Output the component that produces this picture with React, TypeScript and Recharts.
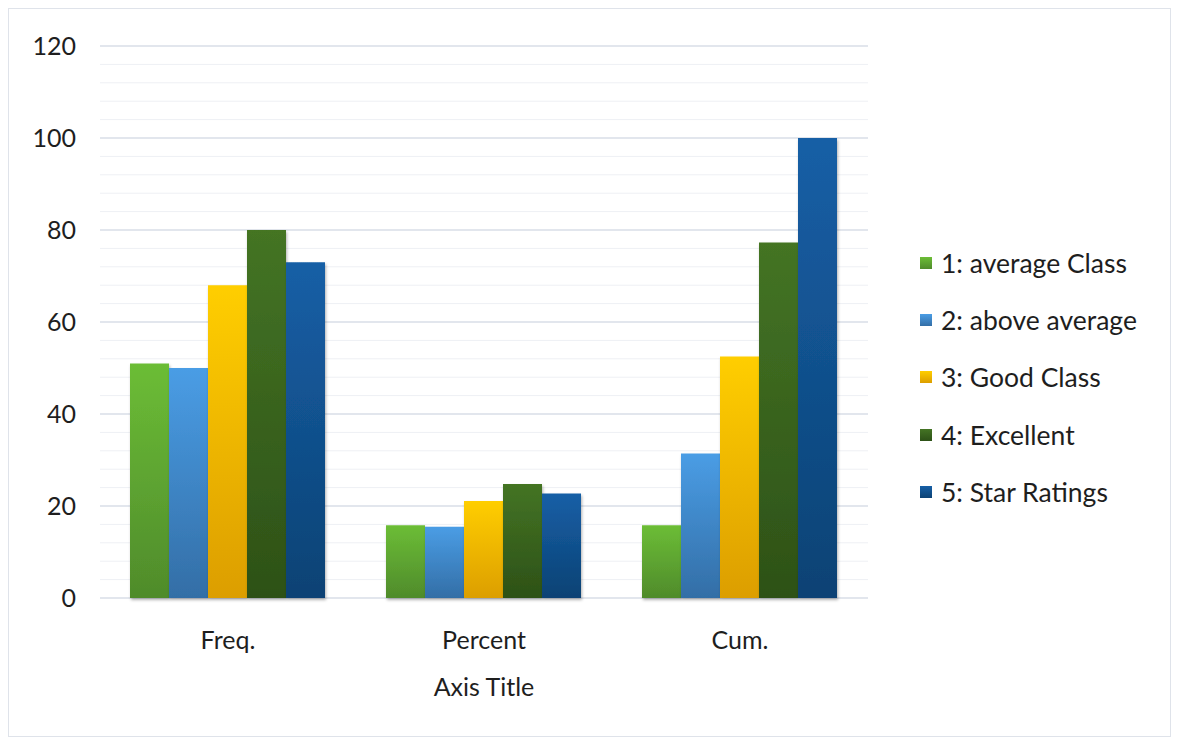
import { BarChart, Bar, XAxis, YAxis, CartesianGrid } from 'recharts';

const categories = ['Freq.', 'Percent', 'Cum.'];
const seriesNames = ['1: average Class', '2: above average', '3: Good Class', '4: Excellent', '5: Star Ratings'];
const averageClass = [51, 15.8, 15.8];
const aboveAverage = [50, 15.5, 31.4];
const goodClass = [68, 21.1, 52.5];
const excellent = [80, 24.8, 77.3];
const starRatings = [73, 22.7, 100];
const yTicks = [0, 20, 40, 60, 80, 100, 120];
const minorTicks = [4, 8, 12, 16, 24, 28, 32, 36, 44, 48, 52, 56, 64, 68, 72, 76, 84, 88, 92, 96, 104, 108, 112, 116];

const seriesValues = [averageClass, aboveAverage, goodClass, excellent, starRatings];
const gradients = [
    ['#6cbd36', '#4f8b2b'],
    ['#4a9de5', '#336ea6'],
    ['#ffce00', '#dc9e00'],
    ['#447424', '#2d5117'],
    ['#165fa6', '#0c4274'],
];

const chartData = categories.map((name, i) => {
    const row: Record<string, string | number> = { name };
    seriesNames.forEach((s, j) => { row[`s${j}`] = seriesValues[j][i]; });
    return row;
});

const FONT = 'Lato, "Open Sans", sans-serif';
const FONT_SIZE = 25;
const TEXT = '#1e1e1e';

const YTick = (props: any) => {
    const { y, payload } = props;
    return (
        <text x={67} y={y} dy="0.36em" textAnchor="end" fontFamily={FONT} fontSize={FONT_SIZE} fill={TEXT}>
            {payload.value}
        </text>
    );
};

const XTick = (props: any) => {
    const { x, y, payload } = props;
    return (
        <text x={x} y={y + 43} textAnchor="middle" fontFamily={FONT} fontSize={FONT_SIZE} fill={TEXT}>
            {payload.value}
        </text>
    );
};

const ChartLegend = () => (
    <div style={{ position: 'absolute', left: 911, top: 225, fontFamily: FONT, fontSize: 26.5, color: TEXT }}>
        {seriesNames.map((s, i) => (
            <div key={s} style={{ display: 'flex', alignItems: 'center', height: 57.3, whiteSpace: 'nowrap' }}>
                <div style={{
                    width: 12, height: 12, marginRight: 9,
                    background: `linear-gradient(${gradients[i][0]}, ${gradients[i][1]})`,
                }} />
                <span>{s}</span>
            </div>
        ))}
    </div>
);

export default function App() {
    return (
        <div style={{ position: 'relative', width: 1163, height: 729, border: '1px solid #dfe3ea', boxSizing: 'border-box', background: '#fff' }}>
            <BarChart
                width={1161}
                height={727}
                data={chartData}
                margin={{ top: 37, right: 302, left: 0, bottom: 0 }}
                barCategoryGap={30}
                barGap={0}
            >
                <defs>
                    {gradients.map((g, i) => (
                        <linearGradient key={i} id={`grad${i}`} x1="0" y1="0" x2="0" y2="1">
                            <stop offset="0%" stopColor={g[0]} />
                            <stop offset="100%" stopColor={g[1]} />
                        </linearGradient>
                    ))}
                    <filter id="barShadow" x="-10%" y="-5%" width="130%" height="115%">
                        <feDropShadow dx="1" dy="2" stdDeviation="1.5" floodColor="#000" floodOpacity="0.3" />
                    </filter>
                </defs>
                <CartesianGrid vertical={false} horizontalValues={minorTicks} stroke="#eef0f4" strokeWidth={1} />
                <CartesianGrid vertical={false} horizontalValues={yTicks} stroke="#d9dee7" strokeWidth={1.5} />
                <XAxis
                    dataKey="name"
                    height={138}
                    axisLine={false}
                    tickLine={false}
                    tick={<XTick />}
                    label={{ value: 'Axis Title', position: 'insideTop', offset: 80, fontFamily: FONT, fontSize: FONT_SIZE, fill: TEXT }}
                />
                <YAxis
                    domain={[0, 120]}
                    ticks={yTicks}
                    width={91}
                    axisLine={false}
                    tickLine={false}
                    tick={<YTick />}
                    interval={0}
                />
                {seriesNames.map((s, i) => (
                    <Bar
                        key={s}
                        dataKey={`s${i}`}
                        name={s}
                        fill={`url(#grad${i})`}
                        filter="url(#barShadow)"
                        isAnimationActive={false}
                    />
                ))}
            </BarChart>
            <ChartLegend />
        </div>
    );
}
